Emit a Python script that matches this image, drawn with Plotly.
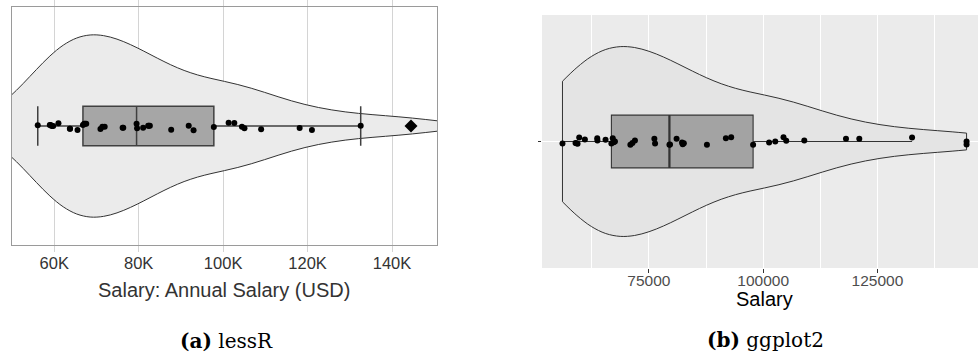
import numpy as np
import plotly.graph_objects as go

# Annual salaries (USD) of the 37 employees
salary = [56100, 58950, 59150, 59400, 59760, 61000, 63700, 63750, 65520, 66800,
          67100, 67300, 67580, 70950, 71400, 71950, 76200, 76350, 79500, 79620,
          81060, 82250, 82400, 82650, 87700, 91850, 93000, 97800, 101300, 102650,
          104450, 105050, 109000, 118120, 121030, 132580, 144500]

# vertical jitter of each point (fraction of half panel height)
jitter_a = [0.006, 0.008, 0.008, 0.0, 0.0, 0.023, -0.023, -0.023, -0.034, 0.008,
            0.019, 0.019, 0.019, -0.025, -0.006, -0.006, -0.014, -0.014, 0.019, -0.019,
            -0.014, 0.003, 0.003, 0.003, -0.031, 0.003, -0.036, -0.008, 0.028, 0.025,
            -0.006, -0.019, -0.028, -0.017, -0.034, 0.003, 0.0]
jitter_b = [-0.016, -0.011, -0.014, -0.018, 0.032, 0.016, 0.026, 0.008, 0.013, -0.016,
            0.026, -0.005, 0.0, -0.026, -0.011, 0.008, 0.021, -0.016, -0.026, -0.024,
            0.021, -0.008, -0.021, -0.013, -0.026, 0.026, 0.034, -0.026, -0.008, 0.0,
            0.034, 0.005, 0.008, 0.021, 0.021, 0.032, -0.024]

ticks_a = [60000, 80000, 100000, 120000, 140000]
ticklabels_a = ["60K", "80K", "100K", "120K", "140K"]
ticks_b = [75000, 100000, 125000]
ticklabels_b = ["75000", "100000", "125000"]
minor_ticks_b = [62500, 87500, 112500, 137500]

x = np.array(salary, dtype=float)
q1, med, q3 = np.percentile(x, [25, 50, 75])
iqr = q3 - q1
# kernel bandwidth: R's default rule (bw.nrd0)
bw = 0.9 * min(x.std(ddof=1), iqr / 1.34) * len(x) ** -0.2
inside = (x >= q1 - 1.5 * iqr) & (x <= q3 + 1.5 * iqr)

SANS = "Liberation Sans, Arial, sans-serif"
SERIF = "DejaVu Serif, serif"

fig = go.Figure()

# ---- (a) lessR style ----
fig.add_trace(go.Violin(
    x=salary, y0=0, orientation="h", side="both", width=1.53, bandwidth=bw,
    spanmode="soft", scalemode="width", points=False,
    fillcolor="#EBEBEB", line=dict(color="#333333", width=1),
    hoverinfo="skip", xaxis="x", yaxis="y"))
fig.add_trace(go.Box(
    x=salary, y0=0, orientation="h", width=0.33, quartilemethod="inclusive",
    boxpoints="outliers", jitter=0, pointpos=0, whiskerwidth=1,
    fillcolor="#A6A6A6", line=dict(color="#404040", width=1.5),
    marker=dict(symbol="diamond", size=10, color="black"),
    xaxis="x", yaxis="y"))
fig.add_trace(go.Scatter(
    x=x[inside], y=np.array(jitter_a)[inside], mode="markers",
    marker=dict(size=6, color="black"), xaxis="x", yaxis="y"))

# ---- (b) ggplot2 style ----
box_w_b = 0.4167
fig.add_trace(go.Violin(
    x=salary, y0=0, orientation="h", side="both", width=1.5, bandwidth=bw,
    spanmode="hard", scalemode="width", points=False,
    fillcolor="#E4E4E4", line=dict(color="#333333", width=1),
    hoverinfo="skip", xaxis="x2", yaxis="y2"))
fig.add_trace(go.Box(
    x=salary, y0=0, orientation="h", width=box_w_b, quartilemethod="inclusive",
    boxpoints="outliers", jitter=0, pointpos=0, whiskerwidth=0,
    fillcolor="#A3A3A3", line=dict(color="#333333", width=1.1),
    marker=dict(symbol="circle", size=6, color="black"),
    xaxis="x2", yaxis="y2"))
# thicker median bar (ggplot fatten = 2)
fig.add_trace(go.Scatter(
    x=[med, med], y=[-box_w_b / 2, box_w_b / 2], mode="lines",
    line=dict(color="#333333", width=2.2), xaxis="x2", yaxis="y2"))
fig.add_trace(go.Scatter(
    x=salary, y=jitter_b, mode="markers",
    marker=dict(size=6, color="black"), xaxis="x2", yaxis="y2"))

fig.update_layout(
    width=978, height=354, margin=dict(l=0, r=0, t=0, b=0),
    paper_bgcolor="white", plot_bgcolor="white", showlegend=False,
    boxmode="overlay", violinmode="overlay",
    xaxis=dict(domain=[12 / 978, 437 / 978], range=[50000, 150650], anchor="y",
               tickmode="array", tickvals=ticks_a, ticktext=ticklabels_a,
               showgrid=True, gridcolor="#D4D4D4", gridwidth=1, zeroline=False,
               showline=True, linecolor="#9A9A9A", linewidth=1.2, mirror="allticks",
               ticks="outside", ticklen=6, tickcolor="#D4D4D4", tickwidth=1,
               ticklabelstandoff=-3,
               tickfont=dict(family=SANS, size=16.5, color="#333333")),
    yaxis=dict(domain=[1 - 245 / 354, 1 - 7 / 354], range=[-1, 1], anchor="x",
               showticklabels=False, showgrid=False, zeroline=False, ticks="",
               showline=True, linecolor="#9A9A9A", linewidth=1.2, mirror=True),
    xaxis2=dict(domain=[542 / 978, 1.0], range=[51620, 147000], anchor="y2",
                tickmode="array", tickvals=ticks_b, ticktext=ticklabels_b,
                showgrid=True, gridcolor="white", gridwidth=1.1, zeroline=False,
                showline=False, ticks="outside", ticklen=3.5, tickcolor="#333333",
                tickwidth=1, ticklabelstandoff=-5,
                minor=dict(tickmode="array", tickvals=minor_ticks_b, showgrid=True,
                           gridcolor="white", gridwidth=0.5, ticks=""),
                tickfont=dict(family=SANS, size=15.5, color="#4D4D4D")),
    yaxis2=dict(domain=[1 - 268 / 354, 1 - 15 / 354], range=[-1, 1], anchor="x2",
                tickmode="array", tickvals=[0], ticktext=[""],
                showgrid=True, gridcolor="white", gridwidth=1.1, zeroline=False,
                showline=False, ticks="outside", ticklen=3.5, tickcolor="#333333"),
    shapes=[dict(type="rect", xref="x2 domain", yref="y2 domain", x0=0, x1=1,
                 y0=0, y1=1, fillcolor="#EBEBEB", line=dict(width=0), layer="below")],
    annotations=[
        dict(text="Salary: Annual Salary (USD)", xref="paper", yref="paper",
             x=224 / 978, y=1 - 290 / 354, xanchor="center", yanchor="middle",
             showarrow=False, font=dict(family=SANS, size=20, color="#333333")),
        dict(text="<b>(a)</b> lessR", xref="paper", yref="paper",
             x=226 / 978, y=1 - 341 / 354, xanchor="center", yanchor="middle",
             showarrow=False, font=dict(family=SERIF, size=20, color="black")),
        dict(text="Salary", xref="paper", yref="paper",
             x=764 / 978, y=1 - 299 / 354, xanchor="center", yanchor="middle",
             showarrow=False, font=dict(family=SANS, size=20, color="black")),
        dict(text="<b>(b)</b> ggplot2", xref="paper", yref="paper",
             x=765 / 978, y=1 - 340 / 354, xanchor="center", yanchor="middle",
             showarrow=False, font=dict(family=SERIF, size=20, color="black")),
    ],
)

fig.write_html("out.html")
